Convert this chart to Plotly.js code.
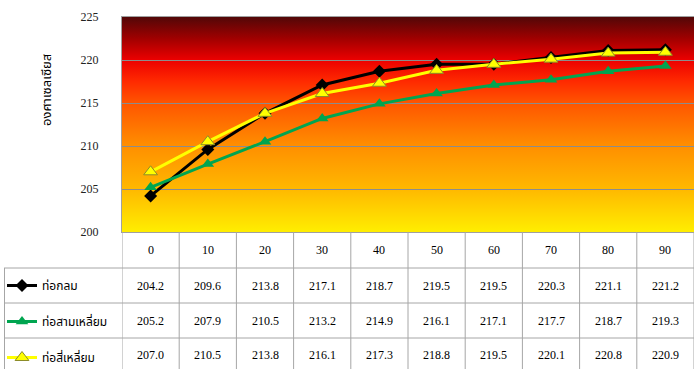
<!DOCTYPE html>
<html>
<head>
<meta charset="utf-8">
<script src="https://cdn.plot.ly/plotly-3.0.1.min.js"></script>
<style>
  html, body { margin: 0; padding: 0; background: #ffffff; }
  #chart { width: 694px; height: 369px; }
</style>
</head>
<body>
<div id="chart"></div>
<script>
// Distance categories along the x axis
const categories = ['0', '10', '20', '30', '40', '50', '60', '70', '80', '90'];

// Temperatures (°C) for each pipe shape
const roundPipe    = [204.2, 209.6, 213.8, 217.1, 218.7, 219.5, 219.5, 220.3, 221.1, 221.2];
const trianglePipe = [205.2, 207.9, 210.5, 213.2, 214.9, 216.1, 217.1, 217.7, 218.7, 219.3];
const squarePipe   = [207.0, 210.5, 213.8, 216.1, 217.3, 218.8, 219.5, 220.1, 220.8, 220.9];

const seriesNames = ['ท่อกลม', 'ท่อสามเหลี่ยม', 'ท่อสี่เหลี่ยม'];
const yTitle = 'องศาเซลเซียส';
const yTicks = [200, 205, 210, 215, 220, 225];

const seriesData = [roundPipe, trianglePipe, squarePipe];
const styles = [
  { line: '#000000', marker: { symbol: 'diamond', size: 10, color: '#000000' } },
  { line: '#00a550', marker: { symbol: 'triangle-up', size: 11, color: '#00a550' } },
  { line: '#ffff00', marker: { symbol: 'triangle-up', size: 12, color: '#ffff00', line: { color: '#8c8c28', width: 1 } } }
];

const serif = 'Liberation Serif, Times New Roman, serif';
const thai = 'Tahoma, Noto Sans Thai, Loma, Garuda, DejaVu Sans, sans-serif';

const traces = seriesData.map((vals, i) => ({
  type: 'scatter',
  mode: 'lines+markers',
  name: seriesNames[i],
  legendgroup: 'g' + i,
  x: categories,
  y: vals,
  line: { color: styles[i].line, width: 3 },
  marker: styles[i].marker,
  cliponaxis: false
}));

// Vertical gradient fill of the plotting area (dark red at top to yellow at bottom)
const gradientSvg =
  '<svg xmlns="http://www.w3.org/2000/svg" width="10" height="215" preserveAspectRatio="none">' +
  '<defs><linearGradient id="g" x1="0" y1="0" x2="0" y2="1">' +
  '<stop offset="0" stop-color="#520707"/>' +
  '<stop offset="0.10" stop-color="#a00000"/>' +
  '<stop offset="0.20" stop-color="#ec0000"/>' +
  '<stop offset="0.30" stop-color="#ff2a00"/>' +
  '<stop offset="0.40" stop-color="#ff5500"/>' +
  '<stop offset="0.60" stop-color="#ff8f00"/>' +
  '<stop offset="0.80" stop-color="#ffb800"/>' +
  '<stop offset="1" stop-color="#ffee00"/>' +
  '</linearGradient></defs>' +
  '<rect x="0" y="0" width="10" height="215" fill="url(#g)"/></svg>';

// Data table under the plot, in paper coordinates (plot height 215 px)
const H = 215, W = 572;
const py = p => (232 - p) / H;       // pixel row -> paper y
const px = p => (p - 122) / W;       // pixel column -> paper x
const gridCol = '#a6a6a6';

const shapes = [];
// column dividers through header and data rows
for (let k = 0; k <= categories.length; k++) {
  shapes.push({ type: 'line', xref: 'x', yref: 'paper', x0: k - 0.5, x1: k - 0.5,
    y0: 0, y1: py(369), line: { color: gridCol, width: 1 } });
}
// row separators
[268, 303, 338].forEach(r => {
  shapes.push({ type: 'line', xref: 'paper', yref: 'paper', x0: px(4), x1: 1,
    y0: py(r), y1: py(r), line: { color: gridCol, width: 1 } });
});
// left edge of the legend column
shapes.push({ type: 'line', xref: 'paper', yref: 'paper', x0: px(4.5), x1: px(4.5),
  y0: py(268), y1: py(369), line: { color: gridCol, width: 1 } });

const annotations = [];
const rowCenters = [286, 321, 355];
const cellFont = { family: serif, size: 12, color: '#000' };
categories.forEach((c, k) => {
  annotations.push({ xref: 'x', yref: 'paper', x: k, y: py(250), text: c, showarrow: false,
    xanchor: 'center', yanchor: 'middle', font: cellFont });
  seriesData.forEach((vals, i) => {
    annotations.push({ xref: 'x', yref: 'paper', x: k, y: py(rowCenters[i]), text: vals[k].toFixed(1),
      showarrow: false, xanchor: 'center', yanchor: 'middle', font: cellFont });
  });
});
// vertical axis title
annotations.push({ xref: 'paper', yref: 'paper', x: px(47), y: py(90), text: yTitle,
  textangle: -90, showarrow: false, xanchor: 'center', yanchor: 'middle',
  font: { family: thai, size: 13, color: '#000' } });

const layout = {
  width: 694,
  height: 369,
  margin: { l: 122, r: 0, t: 17, b: 137, autoexpand: false },
  paper_bgcolor: '#ffffff',
  plot_bgcolor: 'rgba(0,0,0,0)',
  showlegend: true,
  legend: {
    x: px(2), y: py(271), xanchor: 'left', yanchor: 'top',
    bgcolor: 'rgba(0,0,0,0)',
    font: { family: thai, size: 12, color: '#000' },
    tracegroupgap: 17,
    itemclick: false
  },
  xaxis: {
    type: 'category',
    range: [-0.5, categories.length - 0.5],
    showticklabels: false,
    ticks: '',
    showgrid: false,
    zeroline: false,
    showline: true,
    mirror: true,
    linecolor: '#a0a0a0',
    linewidth: 1
  },
  yaxis: {
    range: [200, 225],
    tickvals: yTicks,
    ticks: '',
    ticklabelstandoff: 20,
    tickfont: { family: serif, size: 12, color: '#222' },
    showgrid: true,
    gridcolor: '#8c8c8c',
    gridwidth: 1,
    zeroline: false,
    showline: true,
    mirror: true,
    linecolor: '#a0a0a0',
    linewidth: 1
  },
  images: [{
    source: 'data:image/svg+xml;charset=utf-8,' + encodeURIComponent(gradientSvg),
    xref: 'paper', yref: 'paper', x: 0, y: 1, sizex: 1, sizey: 1,
    sizing: 'stretch', xanchor: 'left', yanchor: 'top', layer: 'below'
  }],
  shapes: shapes,
  annotations: annotations
};

Plotly.newPlot('chart', traces, layout, { displayModeBar: false, staticPlot: true });
</script>
</body>
</html>
